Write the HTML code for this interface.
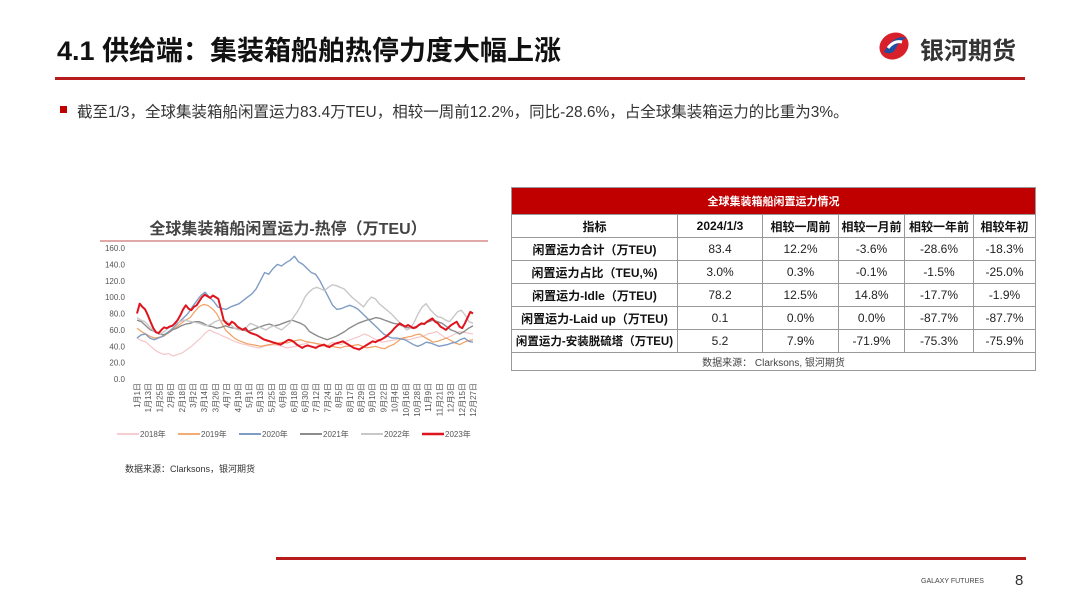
<!DOCTYPE html>
<html><head><meta charset="utf-8"><style>
body{margin:0;width:1080px;height:608px;background:#fff;position:relative;overflow:hidden;font-family:"Liberation Sans","Noto Sans CJK SC",sans-serif;color:#222}
.abs{position:absolute}
table{border-collapse:collapse;position:absolute;left:511px;top:187px;width:525px;font-size:12px}
td{border:1px solid #999;text-align:center;padding:0;height:22px;white-space:nowrap}
th{background:#c00000;color:#fff;height:24px;font-size:11px;border:1px solid #999}
.l{font-weight:bold;color:#111}
</style></head><body>
<div class="abs" style="left:57px;top:29px;font-size:27px;font-weight:bold;color:#111">4.1 供给端：集装箱船舶热停力度大幅上涨</div>
<div class="abs" style="left:876px;top:30px;width:34px;height:30px">
<svg width="36" height="32" viewBox="0 0 36 32"><ellipse cx="18" cy="16" rx="15" ry="13" fill="#d8202a" transform="rotate(-30 18 16)"/><path d="M8 22 Q18 4 30 8 Q22 12 20 18 Q16 26 8 22Z" fill="#1e4fa0"/><path d="M12 18 Q18 10 26 12" stroke="#fff" stroke-width="3" fill="none"/></svg></div>
<div class="abs" style="left:920px;top:31px;font-size:24px;font-weight:bold;color:#333">银河期货</div>
<div class="abs" style="left:55px;top:77px;width:970px;height:3px;background:#b71c1c"></div>
<div class="abs" style="left:60px;top:106px;width:7px;height:7px;background:#c00000"></div>
<div class="abs" style="left:77px;top:100px;font-size:15.5px;color:#333;white-space:nowrap">截至1/3，全球集装箱船闲置运力83.4万TEU，相较一周前12.2%，同比-28.6%，占全球集装箱运力的比重为3%。</div>

<svg class="abs" style="left:0;top:0" width="520" height="480" id="chart">
<text x="288" y="234" text-anchor="middle" font-size="16" font-weight="bold" fill="#444">全球集装箱船闲置运力-热停（万TEU）</text>
<line x1="100" y1="241" x2="488" y2="241" stroke="#c0504d" stroke-width="1"/>
<g id="yax"></g><g id="xax"></g><g id="lines"></g><g id="legend"></g>
<text x="125" y="472" font-size="9" fill="#333">数据来源：Clarksons，银河期货</text>
</svg>

<table>
<tr><th colspan="6">全球集装箱船闲置运力情况</th></tr>
<tr class="l" style="height:21px"><td style="width:165px">指标</td><td style="width:84px">2024/1/3</td><td style="width:75px">相较一周前</td><td style="width:65px">相较一月前</td><td style="width:68px">相较一年前</td><td>相较年初</td></tr>
<tr><td class="l">闲置运力合计（万TEU)</td><td>83.4</td><td>12.2%</td><td>-3.6%</td><td>-28.6%</td><td>-18.3%</td></tr>
<tr><td class="l">闲置运力占比（TEU,%)</td><td>3.0%</td><td>0.3%</td><td>-0.1%</td><td>-1.5%</td><td>-25.0%</td></tr>
<tr><td class="l">闲置运力-Idle（万TEU)</td><td>78.2</td><td>12.5%</td><td>14.8%</td><td>-17.7%</td><td>-1.9%</td></tr>
<tr><td class="l">闲置运力-Laid up（万TEU)</td><td>0.1</td><td>0.0%</td><td>0.0%</td><td>-87.7%</td><td>-87.7%</td></tr>
<tr><td class="l" style="font-size:11.5px">闲置运力-安装脱硫塔（万TEU)</td><td>5.2</td><td>7.9%</td><td>-71.9%</td><td>-75.3%</td><td>-75.9%</td></tr>
<tr><td colspan="6" style="height:17px;font-size:10px;color:#444">数据来源： Clarksons, 银河期货</td></tr>
</table>

<div class="abs" style="left:276px;top:557px;width:750px;height:3px;background:#b71c1c"></div>
<div class="abs" style="left:921px;top:578px;font-size:7px;color:#444">GALAXY FUTURES</div>
<div class="abs" style="left:1015px;top:572px;font-size:15px;color:#333">8</div>

<script>
const yTicks=[0,20,40,60,80,100,120,140,160];
const xLabels=["1月1日","1月13日","1月25日","2月6日","2月18日","3月2日","3月14日","3月26日","4月7日","4月19日","5月1日","5月13日","5月25日","6月6日","6月18日","6月30日","7月12日","7月24日","8月5日","8月17日","8月29日","9月10日","9月22日","10月4日","10月16日","10月28日","11月9日","11月21日","12月3日","12月15日","12月27日"];
const seriesNames=["2018年","2019年","2020年","2021年","2022年","2023年"];
const s2018=[50,47,45,40,35,32,30,31,28,30,32,36,40,45,50,56,60,57,55,52,50,47,45,43,42,40,39,38,40,41,42,41,40,38,39,40,42,43,45,44,42,40,41,45,43,42,46,48,50,52,55,53,50,47,45,46,47,48,50,49,48,50,51,52,55,56,58,54,50,52,55,58,57,56,55];
const s2019=[62,58,55,52,50,51,52,56,60,64,68,72,75,82,88,91,90,86,80,70,60,55,50,47,45,43,42,41,40,41,42,43,44,45,44,46,47,48,46,45,44,43,42,41,40,39,38,40,40,41,42,40,38,39,40,38,37,40,42,46,50,51,52,54,55,51,48,45,46,48,50,47,44,42,45,47,48];
const s2020=[50,54,55,50,48,50,52,56,60,65,70,75,80,88,95,102,106,100,95,88,86,85,88,90,92,96,100,104,110,120,130,128,135,140,138,142,145,150,143,140,135,130,128,120,110,100,90,85,86,88,90,88,85,80,75,70,65,60,55,52,50,50,49,48,45,42,40,42,45,44,42,40,41,42,44,45,48,50,46,45];
const s2021=[72,70,65,60,58,55,54,56,60,62,65,67,68,70,70,68,65,64,62,63,65,63,62,61,60,58,60,62,64,66,67,65,66,68,70,72,70,68,65,58,55,52,50,48,50,52,55,58,62,65,68,70,72,73,75,74,72,70,68,67,65,63,62,64,66,68,70,72,70,68,64,60,58,55,58,62,65];
const s2022=[75,72,70,65,60,57,55,58,62,65,68,70,72,71,70,69,68,66,65,67,70,72,71,70,66,62,60,61,63,68,66,64,62,60,63,65,62,60,64,68,75,82,90,100,106,110,112,110,108,112,115,114,112,110,105,100,96,92,88,95,100,98,92,88,84,80,75,70,65,60,62,70,80,88,92,85,80,76,75,72,70,76,82,84,78,70,68];
const s2023=[80,92,88,85,78,70,62,57,56,60,63,62,64,65,68,72,78,85,90,86,84,88,90,95,100,103,101,99,102,100,98,85,72,68,66,70,68,64,62,60,62,58,56,55,54,52,50,48,47,46,45,44,43,42,44,46,48,47,45,42,40,38,40,41,40,39,38,40,41,42,40,39,41,43,44,45,46,44,42,40,38,37,36,38,40,42,44,46,45,47,48,50,52,55,58,62,65,68,66,64,66,64,62,63,66,68,67,70,72,74,70,68,64,62,60,63,66,68,70,64,62,68,75,82,80];
const colors=["#f4c7c9","#f0a060","#7f9cc4","#8c8c8c","#c8c8c8","#e0141e"];
const widths=[1.2,1.2,1.4,1.4,1.4,2];
const ns="http://www.w3.org/2000/svg";
const X0=137,X1=473,Y0=379,Y1=248;
function yS(v){return Y0-(v/160)*(Y0-Y1);}
function xS(i,n){return X0+(X1-X0)*i/(n-1);}
function mk(t,a,p){const e=document.createElementNS(ns,t);for(const k in a)e.setAttribute(k,a[k]);p.appendChild(e);return e;}
const yax=document.getElementById('yax');
yTicks.forEach(v=>{const t=mk('text',{x:125,y:yS(v)+3,'text-anchor':'end','font-size':8,fill:'#555'},yax);t.textContent=v.toFixed(1);

});
const xax=document.getElementById('xax');
xLabels.forEach((l,i)=>{const x=xS(i,xLabels.length);const t=mk('text',{x:0,y:0,transform:`translate(${x+3},383) rotate(-90)`,'text-anchor':'end','font-size':8,fill:'#555'},xax);t.textContent=l;

});
const lines=document.getElementById('lines');
[s2018,s2019,s2020,s2021,s2022,s2023].forEach((s,k)=>{const pts=s.map((v,i)=>xS(i,s.length).toFixed(1)+','+yS(v).toFixed(1)).join(' ');
const p=mk('polyline',{points:pts,fill:'none',stroke:colors[k],'stroke-width':widths[k],'stroke-linejoin':'round'},lines);

});
const lg=document.getElementById('legend');
seriesNames.forEach((n,k)=>{const x=117+k*61;const g=mk('g',{},lg);


mk('line',{x1:x,y1:434,x2:x+22,y2:434,stroke:colors[k],'stroke-width':widths[k]+0.5},g);
const t=mk('text',{x:x+23,y:437,'font-size':8,fill:'#555'},g);t.textContent=n;});
</script>
</body></html>
